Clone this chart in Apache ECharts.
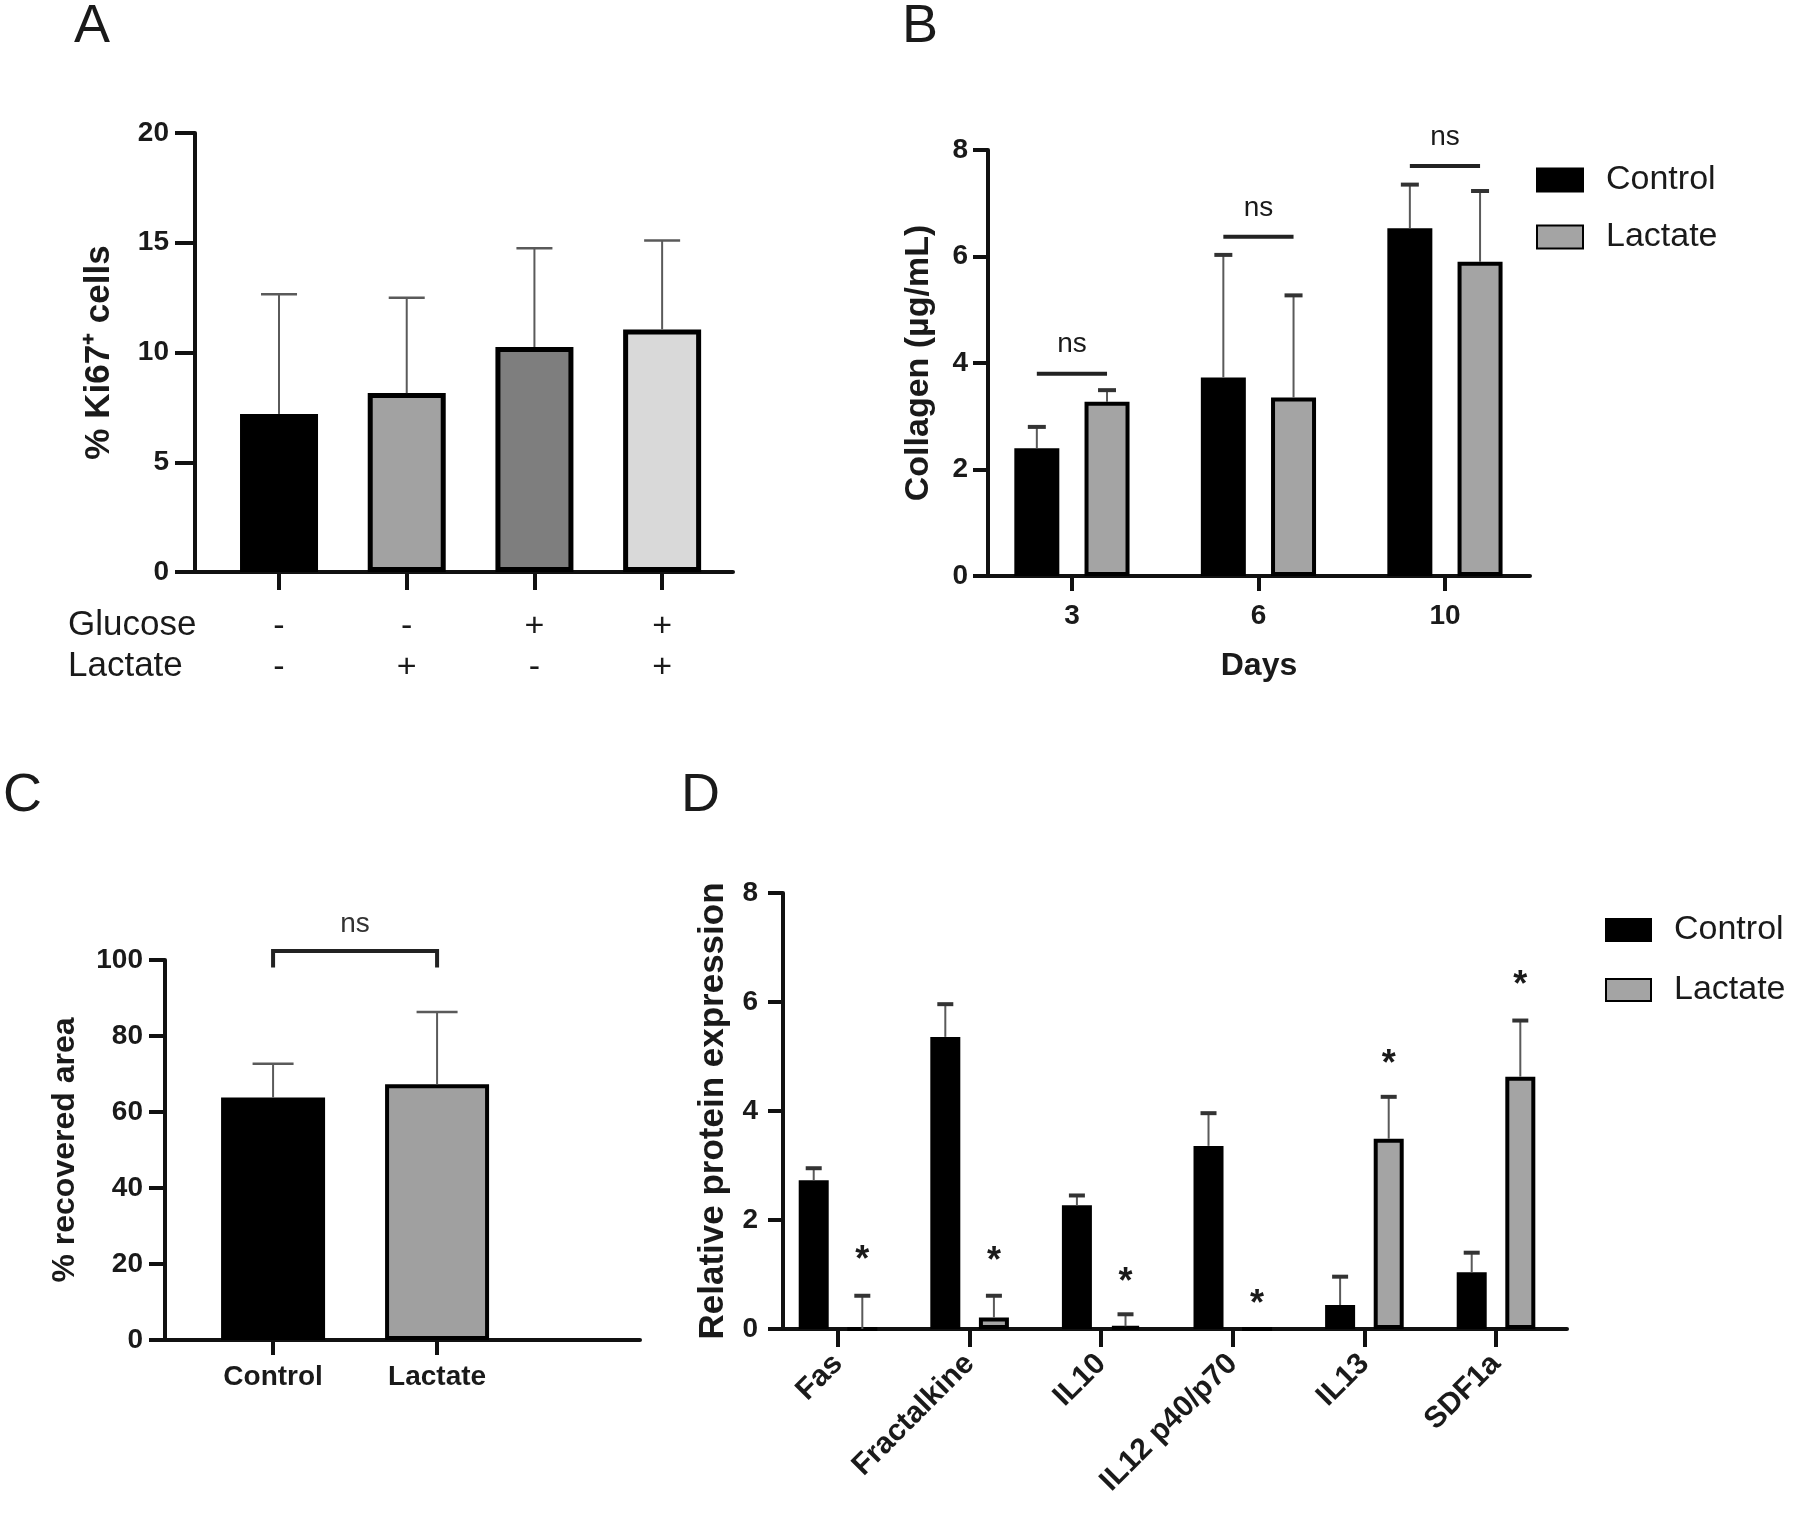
<!DOCTYPE html>
<html><head><meta charset="utf-8">
<script src="https://cdn.jsdelivr.net/npm/echarts@6/dist/echarts.min.js"></script>
<style>html,body{margin:0;padding:0;background:#fff}#c{width:1800px;height:1521px}</style>
</head><body><div id="c"></div>
<script>
// ---------- Panel A ----------
const aGlucose = ['-', '-', '+', '+'];
const aLactate = ['-', '+', '-', '+'];
const aMeans   = [7.2, 8.15, 10.25, 11.05];
const aErrTops = [12.65, 12.5, 14.75, 15.1];
const aColors  = ['#000000', '#a2a2a2', '#7e7e7e', '#d9d9d9'];
const aYTicks  = [0, 5, 10, 15, 20];

// ---------- Panel B ----------
const bDays        = ['3', '6', '10'];
const bControl     = [2.4, 3.73, 6.53];
const bControlErr  = [2.8, 6.03, 7.35];
const bLactate     = [3.27, 3.35, 5.9];
const bLactateErr  = [3.49, 5.27, 7.23];
const bNsLevels    = [3.8, 6.37, 7.7];
const bYTicks      = [0, 2, 4, 6, 8];

// ---------- Panel C ----------
const cGroups   = ['Control', 'Lactate'];
const cMeans    = [63.8, 67.3];
const cErrTops  = [72.7, 86.3];
const cBracket  = [102.4, 98];   // bracket top, leg ends
const cYTicks   = [0, 20, 40, 60, 80, 100];

// ---------- Panel D ----------
const dProteins   = ['Fas', 'Fractalkine', 'IL10', 'IL12 p40/p70', 'IL13', 'SDF1a'];
const dControl    = [2.73, 5.36, 2.27, 3.36, 0.44, 1.04];
const dControlErr = [2.95, 5.96, 2.45, 3.96, 0.96, 1.40];
const dLactate    = [0, 0.21, 0.05, 0, 3.49, 4.63];
const dLactateErr = [0.61, 0.61, 0.27, 0, 4.26, 5.66];
const dStars      = [1.42, 1.39, 1.0, 0.61, 5.01, 6.45];
const dYTicks     = [0, 2, 4, 6, 8];

// ---------- styling ----------
const FONT = '"Liberation Sans", Arial, Helvetica, sans-serif';
const INK = '#1a1a1a';
const LINE = {color: '#111', width: 4};
const GRAY_LACT = '#a4a4a4';

const bBarW = 45, bGap = 0.56;
const dBarW = 30, dGap = 0.62;
const bOff = bBarW * (1 + bGap) / 2;
const dOff = dBarW * (1 + dGap) / 2;

function xAxisV(gi, min, max, cats, tickLen, label, extra) {
  const vals = cats.map((_, i) => i);
  return Object.assign({
    type: 'value', gridIndex: gi, min: min, max: max,
    splitLine: {show: false},
    axisLine: {show: true, onZero: false, lineStyle: LINE},
    axisTick: {show: true, customValues: vals, length: tickLen, lineStyle: LINE},
    axisLabel: Object.assign({
      customValues: vals,
      formatter: v => cats[Math.round(v)],
      fontFamily: FONT, color: INK
    }, label)
  }, extra || {});
}
function yAxisV(gi, ticks, tickLen, margin, name, nameGap, nameSize) {
  return {
    type: 'value', gridIndex: gi, min: ticks[0], max: ticks[ticks.length - 1],
    interval: ticks[1] - ticks[0],
    splitLine: {show: false},
    axisLine: {show: true, onZero: false, lineStyle: LINE},
    axisTick: {show: true, length: tickLen, lineStyle: LINE},
    axisLabel: {fontFamily: FONT, fontWeight: 'bold', fontSize: 28, color: INK, margin: margin},
    name: name, nameLocation: 'middle', nameRotate: 90, nameGap: nameGap,
    nameTextStyle: {fontFamily: FONT, fontWeight: 'bold', fontSize: nameSize, color: INK}
  };
}
function errSeries(xi, means, tops, off, capW, capLW, stemColor, capColor) {
  return {
    type: 'custom', xAxisIndex: xi, yAxisIndex: xi, z: 5, silent: true,
    data: means.map((m, i) => [i, m, tops[i]]),
    renderItem: function (params, api) {
      const x = api.value(0), m = api.value(1), t = api.value(2);
      if (!(t > m)) return {type: 'group', children: []};
      const p0 = api.coord([x, m]), p1 = api.coord([x, t]);
      const cx = p0[0] + off;
      return {type: 'group', children: [
        {type: 'line', shape: {x1: cx, y1: p0[1], x2: cx, y2: p1[1]}, style: {stroke: stemColor, lineWidth: 2}},
        {type: 'line', shape: {x1: cx - capW / 2, y1: p1[1], x2: cx + capW / 2, y2: p1[1]}, style: {stroke: capColor, lineWidth: capLW}}
      ]};
    }
  };
}
function barSeries(xi, name, vals, color, w, gap) {
  return {
    type: 'bar', name: name, xAxisIndex: xi, yAxisIndex: xi, barWidth: w, barGap: (gap * 100) + '%',
    data: vals.map((v, i) => [i, v]),
    itemStyle: {color: color, borderColor: '#000', borderWidth: 4},
    z: 2, silent: true
  };
}

const option = {
  animation: false,
  backgroundColor: '#ffffff',
  textStyle: {fontFamily: FONT},
  grid: [
    {left: 195, top: 133, width: 538, height: 439},
    {left: 988, top: 150, width: 542, height: 426},
    {left: 165, top: 960, width: 475, height: 380},
    {left: 783, top: 893, width: 784, height: 436}
  ],
  xAxis: [
    xAxisV(0, -0.658, -0.658 + 538 / 127.7, aGlucose.map((g, i) => g + '\n' + aLactate[i]), 18,
      {fontSize: 34, lineHeight: 41, margin: 34}),
    xAxisV(1, -0.450, 2.456, bDays, 15, {fontSize: 28, fontWeight: 'bold', margin: 26},
      {name: 'Days', nameLocation: 'middle', nameGap: 74,
       nameTextStyle: {fontFamily: FONT, fontWeight: 'bold', fontSize: 32, color: INK}}),
    xAxisV(2, -0.659, -0.659 + 475 / 164, cGroups, 15, {fontSize: 28, fontWeight: 'bold', margin: 23}),
    xAxisV(3, -0.418, -0.418 + 784 / 131.6, dProteins, 18, {fontSize: 30, fontWeight: 'bold', margin: 30, rotate: 45})
  ],
  yAxis: [
    yAxisV(0, aYTicks, 20, 26, '% Ki67\u207A cells', 78, 35),
    yAxisV(1, bYTicks, 15, 20, 'Collagen (\u00B5g/mL)', 52, 34),
    yAxisV(2, cYTicks, 16, 22, '% recovered area', 84, 32),
    yAxisV(3, dYTicks, 15, 25, 'Relative protein expression', 52, 35)
  ],
  legend: [
    {data: ['Control', 'Lactate'], orient: 'vertical', left: 1531, top: 158, itemWidth: 46, itemHeight: 23,
     itemGap: 23, icon: 'rect', selectedMode: false,
     textStyle: {fontFamily: FONT, fontSize: 34, color: INK, padding: [0, 0, 0, 18]}},
    {data: ['Control', 'Lactate'], orient: 'vertical', left: 1600, top: 908, itemWidth: 45, itemHeight: 22,
     itemGap: 26, icon: 'rect', selectedMode: false,
     textStyle: {fontFamily: FONT, fontSize: 34, color: INK, padding: [0, 0, 0, 18]}}
  ],
  graphic: [
    {type: 'text', left: 74, top: 0, style: {text: 'A', font: '54px ' + FONT, fill: INK}},
    {type: 'text', left: 902, top: 0, style: {text: 'B', font: '54px ' + FONT, fill: INK}},
    {type: 'text', left: 3, top: 769, style: {text: 'C', font: '54px ' + FONT, fill: INK}},
    {type: 'text', left: 681, top: 769, style: {text: 'D', font: '54px ' + FONT, fill: INK}},
    {type: 'text', left: 68, top: 608, style: {text: 'Glucose', font: '35px ' + FONT, fill: INK}},
    {type: 'text', left: 68, top: 649, style: {text: 'Lactate', font: '35px ' + FONT, fill: INK}}
  ],
  series: [
    // Panel A
    {
      type: 'bar', xAxisIndex: 0, yAxisIndex: 0, barWidth: 78, silent: true, z: 2,
      data: aMeans.map((v, i) => ({value: [i, v], itemStyle: {color: aColors[i]}})),
      itemStyle: {borderColor: '#000', borderWidth: 5}
    },
    errSeries(0, aMeans, aErrTops, 0, 36, 2.5, '#5a5a5a', '#5a5a5a'),

    // Panel B
    barSeries(1, 'Control', bControl, '#000000', bBarW, bGap),
    barSeries(1, 'Lactate', bLactate, GRAY_LACT, bBarW, bGap),
    errSeries(1, bControl, bControlErr, -bOff, 18, 4, '#5a5a5a', '#333'),
    errSeries(1, bLactate, bLactateErr, bOff, 18, 4, '#5a5a5a', '#333'),
    {
      type: 'custom', xAxisIndex: 1, yAxisIndex: 1, z: 5, silent: true,
      data: bNsLevels.map((v, i) => [i, v]),
      renderItem: function (params, api) {
        const p = api.coord([api.value(0), api.value(1)]);
        return {type: 'group', children: [
          {type: 'line', shape: {x1: p[0] - bOff, y1: p[1], x2: p[0] + bOff, y2: p[1]}, style: {stroke: '#222', lineWidth: 4}},
          {type: 'text', x: p[0], y: p[1] - 29, style: {text: 'ns', font: '28px ' + FONT, fill: INK, align: 'center', verticalAlign: 'middle'}}
        ]};
      }
    },

    // Panel C
    {
      type: 'bar', xAxisIndex: 2, yAxisIndex: 2, barWidth: 104, silent: true, z: 2,
      data: cMeans.map((v, i) => ({value: [i, v], itemStyle: {color: i === 0 ? '#000000' : '#a0a0a0'}})),
      itemStyle: {borderColor: '#000', borderWidth: 4}
    },
    errSeries(2, cMeans, cErrTops, 0, 41, 2.5, '#5a5a5a', '#5a5a5a'),
    {
      type: 'custom', xAxisIndex: 2, yAxisIndex: 2, z: 5, silent: true,
      data: [[0, 1, cBracket[0], cBracket[1]]],
      renderItem: function (params, api) {
        const a = api.coord([api.value(0), api.value(2)]);
        const b = api.coord([api.value(1), api.value(3)]);
        return {type: 'group', children: [
          {type: 'polyline', shape: {points: [[a[0], b[1]], [a[0], a[1]], [b[0], a[1]], [b[0], b[1]]]},
           style: {stroke: '#222', lineWidth: 4, fill: null}},
          {type: 'text', x: (a[0] + b[0]) / 2, y: a[1] - 27, style: {text: 'ns', font: '28px ' + FONT, fill: '#333', align: 'center', verticalAlign: 'middle'}}
        ]};
      }
    },

    // Panel D
    barSeries(3, 'Control', dControl, '#000000', dBarW, dGap),
    barSeries(3, 'Lactate', dLactate, GRAY_LACT, dBarW, dGap),
    errSeries(3, dControl, dControlErr, -dOff, 16, 4, '#5a5a5a', '#333'),
    errSeries(3, dLactate, dLactateErr, dOff, 16, 4, '#5a5a5a', '#333'),
    {
      type: 'custom', xAxisIndex: 3, yAxisIndex: 3, z: 5, silent: true,
      data: dStars.map((v, i) => [i, v]),
      renderItem: function (params, api) {
        const p = api.coord([api.value(0), api.value(1)]);
        return {type: 'text', x: p[0] + dOff, y: p[1] + 9,
          style: {text: '*', font: 'bold 36px ' + FONT, fill: INK, align: 'center', verticalAlign: 'middle'}};
      }
    }
  ]
};

const chart = echarts.init(document.getElementById('c'), null, {renderer: 'canvas', width: 1800, height: 1521});
chart.setOption(option);
</script>
</body></html>
